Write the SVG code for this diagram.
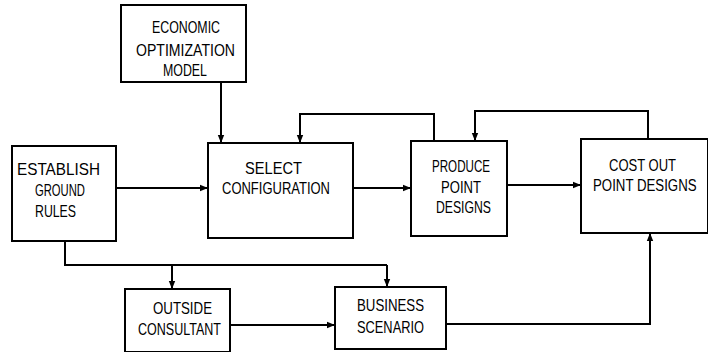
<svg xmlns="http://www.w3.org/2000/svg" width="708" height="352" viewBox="0 0 708 352">
<defs>
<style>
.box{fill:#fff;stroke:#000;stroke-width:2}
.ln{fill:none;stroke:#000;stroke-width:2}
.arr{fill:none;stroke:#000;stroke-width:2;marker-end:url(#ah)}
text{font-family:"Liberation Sans",Arial,sans-serif;font-size:17px;fill:#000}
</style>
<marker id="ah" viewBox="0 0 10 10" refX="10" refY="5" markerWidth="4" markerHeight="4" orient="auto" markerUnits="strokeWidth">
<path d="M0,1 L10,5 L0,9 Z" fill="#000"/>
</marker>
</defs>
<rect width="708" height="352" fill="#fff"/>
<g id="connectors">
<path class="arr" d="M221,82 V143"/>
<path class="arr" d="M434,141 V114 H300 V143"/>
<path class="arr" d="M648,139 V111 H475 V141"/>
<path class="arr" d="M116,188 H208"/>
<path class="arr" d="M353,188 H411"/>
<path class="arr" d="M507,185 H581"/>
<path class="ln" d="M65,241 V265 H387"/>
<path class="arr" d="M387,265 V287"/>
<path class="arr" d="M172,265 V289"/>
<path class="arr" d="M230,325 H335"/>
<path class="arr" d="M446,324 H650 V233"/>
</g>
<g id="economic">
<rect class="box" x="121" y="5" width="125" height="77"/>
<text x="152" y="33" textLength="68" lengthAdjust="spacingAndGlyphs">ECONOMIC</text>
<text x="136" y="56" textLength="99" lengthAdjust="spacingAndGlyphs">OPTIMIZATION</text>
<text x="163" y="76" textLength="44" lengthAdjust="spacingAndGlyphs">MODEL</text>
</g>
<g id="establish">
<rect class="box" x="12" y="146" width="104" height="95"/>
<text x="17" y="175" textLength="83" lengthAdjust="spacingAndGlyphs">ESTABLISH</text>
<text x="35" y="196" textLength="50" lengthAdjust="spacingAndGlyphs">GROUND</text>
<text x="35" y="217" textLength="41" lengthAdjust="spacingAndGlyphs">RULES</text>
</g>
<g id="select">
<rect class="box" x="208" y="143" width="145" height="95"/>
<text x="245" y="174" textLength="57" lengthAdjust="spacingAndGlyphs">SELECT</text>
<text x="222" y="194" textLength="108" lengthAdjust="spacingAndGlyphs">CONFIGURATION</text>
</g>
<g id="produce">
<rect class="box" x="411" y="141" width="96" height="95"/>
<text x="432" y="172" textLength="58" lengthAdjust="spacingAndGlyphs">PRODUCE</text>
<text x="441" y="193" textLength="40" lengthAdjust="spacingAndGlyphs">POINT</text>
<text x="436" y="213" textLength="55" lengthAdjust="spacingAndGlyphs">DESIGNS</text>
</g>
<g id="costout">
<rect class="box" x="581" y="139" width="127" height="94"/>
<text x="609" y="171" textLength="67" lengthAdjust="spacingAndGlyphs">COST OUT</text>
<text transform="translate(593,191) scale(0.78,1)" x="0" y="0">POINT DESIGNS</text>
</g>
<g id="outside">
<rect class="box" x="125" y="289" width="105" height="63"/>
<text x="153" y="314" textLength="59" lengthAdjust="spacingAndGlyphs">OUTSIDE</text>
<text x="138" y="335" textLength="83" lengthAdjust="spacingAndGlyphs">CONSULTANT</text>
</g>
<g id="business">
<rect class="box" x="335" y="287" width="111" height="62"/>
<text x="357" y="311" textLength="67" lengthAdjust="spacingAndGlyphs">BUSINESS</text>
<text x="357" y="333" textLength="67" lengthAdjust="spacingAndGlyphs">SCENARIO</text>
</g>
</svg>
